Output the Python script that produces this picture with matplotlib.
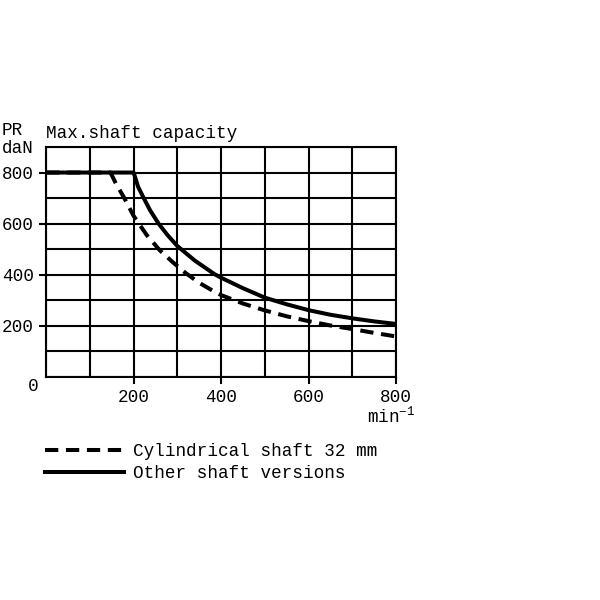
import matplotlib.pyplot as plt
import numpy as np

plt.rcParams['font.family'] = ['Liberation Mono', 'DejaVu Sans']
plt.rcParams['mathtext.fontset'] = 'custom'
plt.rcParams['mathtext.rm'] = 'Liberation Mono'

# speed (min^-1) and radial load PR (daN)
speed_solid = [0, 200, 210, 223, 238, 257, 277, 300, 340, 385, 400,
               450, 500, 550, 600, 650, 700, 750, 800]
pr_solid = [800, 800, 745, 700, 651, 600, 556, 512, 455, 402, 388,
            347, 310, 284, 261, 243, 229, 217, 207]

speed_dashed = [0, 147, 160, 177, 200, 230, 260, 290, 320, 350, 380, 400,
                450, 500, 550, 600, 650, 700, 750, 800]
pr_dashed = [800, 800, 755, 705, 630, 555, 495, 448, 405, 368, 338, 320,
             287, 260, 237, 218, 201, 187, 172, 158]

x_labels = [200, 400, 600, 800]
y_labels = [200, 400, 600, 800]

fs = 12.7

fig = plt.figure(figsize=(6, 6), dpi=100)
fig.set_facecolor('white')
ax = fig.add_axes([0.077, 0.372, 0.583, 0.383])

ax.plot(speed_dashed, pr_dashed, color='black', lw=2.9, linestyle=(0, (3.3, 1.9)),
        label='Cylindrical shaft 32 mm', dash_capstyle='butt', zorder=3)
ax.plot(speed_solid, pr_solid, color='black', lw=2.9, label='Other shaft versions',
        solid_joinstyle='round', zorder=3)

ax.set_xlim(0, 800)
ax.set_ylim(0, 900)
ax.set_xticks(x_labels)
ax.set_xticks(np.arange(0, 801, 100), minor=True)
ax.set_yticks(y_labels)
ax.set_yticks(np.arange(0, 901, 100), minor=True)
ax.grid(which='both', color='black', lw=1.5)
ax.tick_params(which='major', direction='out', length=5, width=1.5, labelsize=fs, pad=4, colors='black')
ax.tick_params(which='minor', length=0)
for s in ax.spines.values():
    s.set_linewidth(1.5)

ax.text(-0.037, -0.043, '0', transform=ax.transAxes, ha='center', va='center', fontsize=fs)
ax.text(1.054, -0.125, r'$\mathregular{min^{-1}}$', transform=ax.transAxes, ha='right', va='top', fontsize=fs)
ax.text(0.0, 1.02, 'Max.shaft capacity', transform=ax.transAxes, ha='left', va='bottom', fontsize=fs)
fig.text(0.003, 0.782, 'PR', ha='left', va='center', fontsize=fs)
fig.text(0.003, 0.753, 'daN', ha='left', va='center', fontsize=fs)

fig.legend(loc='upper left', bbox_to_anchor=(0.075, 0.262), frameon=False, fontsize=fs,
           handlelength=4.5, handletextpad=0.5, labelspacing=0.32, borderpad=0, borderaxespad=0)

fig.savefig('out.png', dpi=100)
